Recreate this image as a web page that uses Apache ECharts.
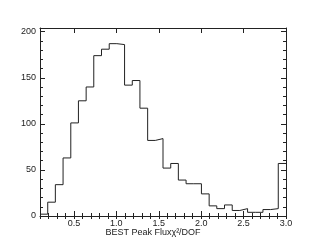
<!DOCTYPE html>
<html>
<head>
<meta charset="utf-8">
<script src="https://cdn.jsdelivr.net/npm/echarts@6/dist/echarts.min.js"></script>
<style>html,body{margin:0;padding:0;background:#fff;}#c{width:311px;height:249px;}</style>
</head>
<body>
<div id="c"></div>
<script>
// Histogram bin edges (33 edges for 32 bins)
const binEdges = [0.100, 0.191, 0.281, 0.372, 0.463, 0.553, 0.644, 0.734, 0.825, 0.916,
  1.006, 1.097, 1.188, 1.278, 1.369, 1.459, 1.550, 1.641, 1.731, 1.822, 1.913,
  2.003, 2.094, 2.184, 2.275, 2.366, 2.456, 2.547, 2.638, 2.728, 2.819, 2.909, 3.000];
// Counts per bin
const counts = [2, 15, 34, 63, 101, 125, 140, 174, 181, 187, 186, 142, 147, 117, 82, 84,
  52, 57, 39, 35, 35, 24, 11, 8, 12, 6, 8, 4, 4, 7, 8, 57];
const xTickLabels = [0.5, 1.0, 1.5, 2.0, 2.5, 3.0];
const yTickLabels = [0, 50, 100, 150, 200];
const xTitle = 'BEST Peak Fluxχ²/DOF';

const stepData = [];
for (let i = 0; i < counts.length; i++) stepData.push([binEdges[i], counts[i]]);
stepData.push([binEdges[binEdges.length - 1], counts[counts.length - 1]]);

const ink = '#222';
const font = 'Liberation Sans, Arial, Helvetica, sans-serif';
const X_MIN = 0.1, X_MAX = 3.0, Y_MIN = 0, Y_MAX = 204;

function xMajor(pos, labels) {
  return {
    type: 'value', position: pos, min: X_MIN, max: X_MAX,
    axisLine: { show: true, onZero: false, lineStyle: { color: ink, width: 1 } },
    axisTick: { show: true, inside: true, length: 5, customValues: xTickLabels, lineStyle: { color: ink } },
    axisLabel: { show: labels, customValues: xTickLabels, margin: 3, color: ink, fontSize: 9, fontFamily: font,
      formatter: v => Number(v).toFixed(1) },
    splitLine: { show: false }
  };
}
function xMinor(pos) {
  return {
    type: 'value', position: pos, min: X_MIN, max: X_MAX, interval: 0.1,
    axisLine: { show: false }, axisLabel: { show: false }, splitLine: { show: false },
    axisTick: { show: true, inside: true, length: 3, lineStyle: { color: ink } }
  };
}
function yMajor(pos, labels) {
  return {
    type: 'value', position: pos, min: Y_MIN, max: Y_MAX,
    axisLine: { show: true, onZero: false, lineStyle: { color: ink, width: 1 } },
    axisTick: { show: true, inside: true, length: 5, customValues: yTickLabels, lineStyle: { color: ink } },
    axisLabel: { show: labels, customValues: yTickLabels, margin: 4, color: ink, fontSize: 9, fontFamily: font },
    splitLine: { show: false }
  };
}
function yMinor(pos) {
  return {
    type: 'value', position: pos, min: Y_MIN, max: Y_MAX, interval: 10,
    axisLine: { show: false }, axisLabel: { show: false }, splitLine: { show: false },
    axisTick: { show: true, inside: true, length: 3, lineStyle: { color: ink } }
  };
}

const chart = echarts.init(document.getElementById('c'), null, { renderer: 'canvas' });
chart.setOption({
  animation: false,
  backgroundColor: '#fff',
  grid: { left: 40, right: 25, top: 28, bottom: 33 },
  xAxis: [xMajor('bottom', true), xMinor('bottom'), xMajor('top', false), xMinor('top')],
  yAxis: [yMajor('left', true), yMinor('left'), yMajor('right', false), yMinor('right')],
  series: [{
    type: 'line', xAxisIndex: 0, yAxisIndex: 0, step: 'end', data: stepData,
    showSymbol: false, symbol: 'none',
    lineStyle: { color: ink, width: 1 }
  }],
  graphic: [{
    type: 'text', x: 153, y: 233,
    style: {
      text: xTitle, align: 'center', verticalAlign: 'middle',
      fontSize: 9, fontFamily: font, fill: ink
    }
  }]
});
</script>
</body>
</html>
